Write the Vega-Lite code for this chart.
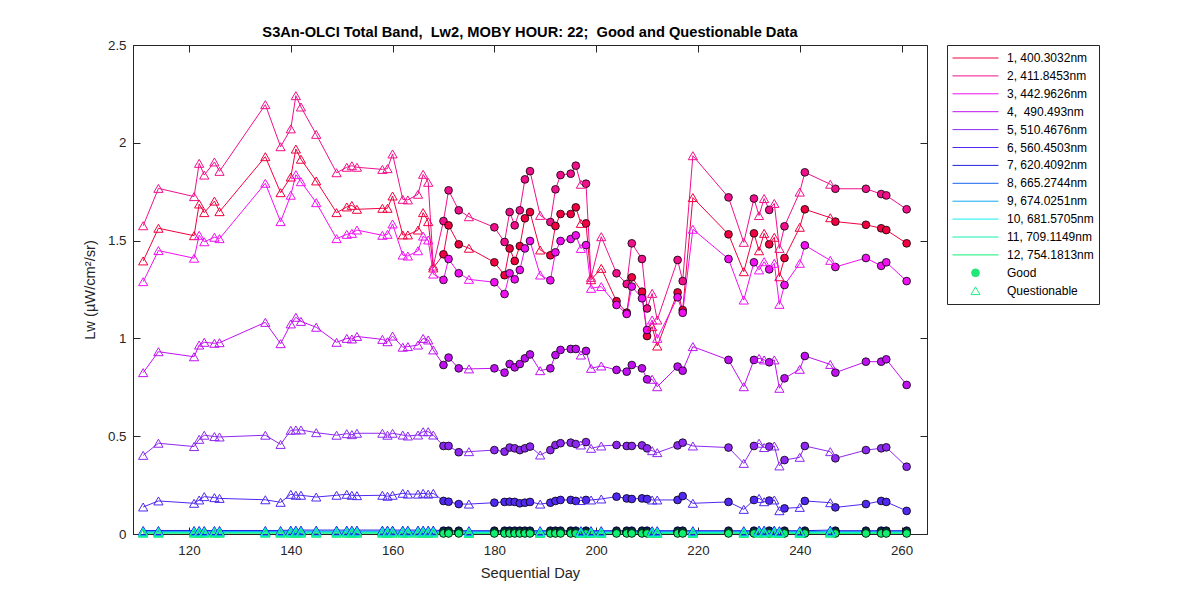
{
  "$schema": "https://vega.github.io/schema/vega-lite/v6.json",
  "width": 794,
  "height": 489,
  "autosize": "none",
  "padding": {"left": 133, "top": 45, "right": 273, "bottom": 66},
  "background": "white",
  "title": {
    "text": "S3An-OLCI Total Band,\u00a0 Lw2, MOBY HOUR: 22;\u00a0 Good and Questionable Data",
    "font": "Liberation Sans",
    "fontSize": 14.67,
    "fontWeight": "bold",
    "color": "#000000",
    "anchor": "middle",
    "baseline": "alphabetic",
    "offset": -14
  },
  "data": {
    "values": [
      {"d":111,"q":"Q","b01":1.396,"b02":1.576,"b03":1.29,"b04":0.825,"b05":0.402,"b06":0.138,"b07":0.018,"b08":0.013,"b09":0.011,"b10":0.009,"b11":0.006,"b12":0.004},
      {"d":114,"q":"Q","b01":1.563,"b02":1.767,"b03":1.449,"b04":0.932,"b05":0.464,"b06":0.169,"b07":0.018,"b08":0.013,"b09":0.011,"b10":0.009,"b11":0.006,"b12":0.004},
      {"d":121,"q":"Q","b01":1.525,"b02":1.725,"b03":1.41,"b04":0.906,"b05":0.447,"b06":0.157,"b07":0.018,"b08":0.013,"b09":0.011,"b10":0.009,"b11":0.006,"b12":0.004},
      {"d":122,"q":"Q","b01":1.687,"b02":1.895,"b03":1.527,"b04":0.966,"b05":0.484,"b06":0.174,"b07":0.018,"b08":0.013,"b09":0.011,"b10":0.009,"b11":0.006,"b12":0.004},
      {"d":123,"q":"Q","b01":1.643,"b02":1.835,"b03":1.494,"b04":0.98,"b05":0.505,"b06":0.191,"b07":0.018,"b08":0.013,"b09":0.011,"b10":0.009,"b11":0.006,"b12":0.004},
      {"d":125,"q":"Q","b01":1.702,"b02":1.902,"b03":1.517,"b04":0.975,"b05":0.498,"b06":0.186,"b07":0.018,"b08":0.013,"b09":0.011,"b10":0.009,"b11":0.006,"b12":0.004},
      {"d":126,"q":"Q","b01":1.648,"b02":1.854,"b03":1.51,"b04":0.978,"b05":0.496,"b06":0.182,"b07":0.018,"b08":0.013,"b09":0.011,"b10":0.009,"b11":0.006,"b12":0.004},
      {"d":135,"q":"Q","b01":1.929,"b02":2.195,"b03":1.793,"b04":1.082,"b05":0.505,"b06":0.175,"b07":0.018,"b08":0.013,"b09":0.011,"b10":0.009,"b11":0.006,"b12":0.004},
      {"d":138,"q":"Q","b01":1.745,"b02":1.98,"b03":1.597,"b04":0.973,"b05":0.458,"b06":0.162,"b07":0.018,"b08":0.013,"b09":0.011,"b10":0.009,"b11":0.006,"b12":0.004},
      {"d":140,"q":"Q","b01":1.825,"b02":2.071,"b03":1.732,"b04":1.074,"b05":0.53,"b06":0.203,"b07":0.02,"b08":0.014,"b09":0.012,"b10":0.01,"b11":0.006,"b12":0.004},
      {"d":141,"q":"Q","b01":1.968,"b02":2.241,"b03":1.837,"b04":1.108,"b05":0.532,"b06":0.198,"b07":0.02,"b08":0.014,"b09":0.012,"b10":0.01,"b11":0.006,"b12":0.004},
      {"d":142,"q":"Q","b01":1.916,"b02":2.183,"b03":1.801,"b04":1.087,"b05":0.532,"b06":0.198,"b07":0.02,"b08":0.014,"b09":0.012,"b10":0.01,"b11":0.006,"b12":0.004},
      {"d":145,"q":"Q","b01":1.805,"b02":2.043,"b03":1.694,"b04":1.057,"b05":0.518,"b06":0.189,"b07":0.02,"b08":0.014,"b09":0.012,"b10":0.01,"b11":0.006,"b12":0.004},
      {"d":149,"q":"Q","b01":1.643,"b02":1.847,"b03":1.51,"b04":0.98,"b05":0.505,"b06":0.198,"b07":0.02,"b08":0.014,"b09":0.012,"b10":0.01,"b11":0.006,"b12":0.004},
      {"d":151,"q":"Q","b01":1.672,"b02":1.875,"b03":1.532,"b04":1.0,"b05":0.513,"b06":0.203,"b07":0.02,"b08":0.014,"b09":0.012,"b10":0.01,"b11":0.006,"b12":0.004},
      {"d":152,"q":"Q","b01":1.68,"b02":1.883,"b03":1.537,"b04":0.997,"b05":0.508,"b06":0.198,"b07":0.02,"b08":0.014,"b09":0.012,"b10":0.01,"b11":0.006,"b12":0.004},
      {"d":153,"q":"Q","b01":1.66,"b02":1.875,"b03":1.554,"b04":1.01,"b05":0.515,"b06":0.196,"b07":0.02,"b08":0.014,"b09":0.012,"b10":0.01,"b11":0.006,"b12":0.004},
      {"d":158,"q":"Q","b01":1.665,"b02":1.864,"b03":1.527,"b04":0.995,"b05":0.515,"b06":0.198,"b07":0.02,"b08":0.014,"b09":0.012,"b10":0.01,"b11":0.006,"b12":0.004},
      {"d":159,"q":"Q","b01":1.665,"b02":1.868,"b03":1.532,"b04":0.983,"b05":0.505,"b06":0.193,"b07":0.02,"b08":0.014,"b09":0.012,"b10":0.01,"b11":0.006,"b12":0.004},
      {"d":160,"q":"Q","b01":1.728,"b02":1.943,"b03":1.585,"b04":1.012,"b05":0.515,"b06":0.198,"b07":0.02,"b08":0.014,"b09":0.012,"b10":0.01,"b11":0.006,"b12":0.004},
      {"d":162,"q":"Q","b01":1.529,"b02":1.711,"b03":1.426,"b04":0.955,"b05":0.506,"b06":0.208,"b07":0.02,"b08":0.014,"b09":0.012,"b10":0.01,"b11":0.006,"b12":0.004},
      {"d":163,"q":"Q","b01":1.529,"b02":1.708,"b03":1.421,"b04":0.958,"b05":0.501,"b06":0.204,"b07":0.02,"b08":0.014,"b09":0.012,"b10":0.01,"b11":0.006,"b12":0.004},
      {"d":165,"q":"Q","b01":1.554,"b02":1.737,"b03":1.448,"b04":0.966,"b05":0.506,"b06":0.204,"b07":0.02,"b08":0.014,"b09":0.012,"b10":0.01,"b11":0.006,"b12":0.004},
      {"d":166,"q":"Q","b01":1.643,"b02":1.839,"b03":1.523,"b04":1.0,"b05":0.523,"b06":0.208,"b07":0.02,"b08":0.014,"b09":0.012,"b10":0.01,"b11":0.006,"b12":0.004},
      {"d":167,"q":"Q","b01":1.597,"b02":1.798,"b03":1.503,"b04":0.992,"b05":0.523,"b06":0.204,"b07":0.02,"b08":0.014,"b09":0.012,"b10":0.01,"b11":0.006,"b12":0.004},
      {"d":168,"q":"Q","b01":1.36,"b02":1.37,"b03":1.329,"b04":0.941,"b05":0.506,"b06":0.208,"b07":0.02,"b08":0.014,"b09":0.012,"b10":0.01,"b11":0.006,"b12":0.004},
      {"d":170,"q":"G","b01":1.43,"b02":1.6,"b03":1.299,"b04":0.864,"b05":0.45,"b06":0.169,"b07":0.017,"b08":0.012,"b09":0.01,"b10":0.008,"b11":0.005,"b12":0.003},
      {"d":171,"q":"G","b01":1.578,"b02":1.757,"b03":1.406,"b04":0.902,"b05":0.45,"b06":0.165,"b07":0.017,"b08":0.012,"b09":0.01,"b10":0.008,"b11":0.005,"b12":0.003},
      {"d":173,"q":"G","b01":1.481,"b02":1.655,"b03":1.333,"b04":0.847,"b05":0.418,"b06":0.153,"b07":0.017,"b08":0.012,"b09":0.01,"b10":0.008,"b11":0.005,"b12":0.003},
      {"d":175,"q":"Q","b01":1.461,"b02":1.622,"b03":1.302,"b04":0.844,"b05":0.421,"b06":0.153,"b07":0.017,"b08":0.012,"b09":0.01,"b10":0.008,"b11":0.005,"b12":0.003},
      {"d":180,"q":"G","b01":1.389,"b02":1.568,"b03":1.287,"b04":0.847,"b05":0.429,"b06":0.16,"b07":0.017,"b08":0.012,"b09":0.01,"b10":0.008,"b11":0.005,"b12":0.003},
      {"d":182,"q":"G","b01":1.323,"b02":1.493,"b03":1.227,"b04":0.825,"b05":0.421,"b06":0.164,"b07":0.017,"b08":0.012,"b09":0.01,"b10":0.008,"b11":0.005,"b12":0.003},
      {"d":183,"q":"G","b01":1.46,"b02":1.646,"b03":1.333,"b04":0.869,"b05":0.442,"b06":0.165,"b07":0.017,"b08":0.012,"b09":0.01,"b10":0.008,"b11":0.005,"b12":0.003},
      {"d":184,"q":"G","b01":1.396,"b02":1.578,"b03":1.302,"b04":0.852,"b05":0.438,"b06":0.164,"b07":0.017,"b08":0.012,"b09":0.01,"b10":0.008,"b11":0.005,"b12":0.003},
      {"d":185,"q":"G","b01":1.472,"b02":1.655,"b03":1.35,"b04":0.869,"b05":0.429,"b06":0.157,"b07":0.017,"b08":0.012,"b09":0.01,"b10":0.008,"b11":0.005,"b12":0.003},
      {"d":186,"q":"G","b01":1.614,"b02":1.813,"b03":1.46,"b04":0.898,"b05":0.438,"b06":0.16,"b07":0.017,"b08":0.012,"b09":0.01,"b10":0.008,"b11":0.005,"b12":0.003},
      {"d":187,"q":"G","b01":1.646,"b02":1.855,"b03":1.498,"b04":0.918,"b05":0.447,"b06":0.164,"b07":0.017,"b08":0.012,"b09":0.01,"b10":0.008,"b11":0.005,"b12":0.003},
      {"d":189,"q":"Q","b01":1.452,"b02":1.629,"b03":1.324,"b04":0.835,"b05":0.404,"b06":0.153,"b07":0.017,"b08":0.012,"b09":0.01,"b10":0.008,"b11":0.005,"b12":0.003},
      {"d":191,"q":"G","b01":1.425,"b02":1.595,"b03":1.297,"b04":0.847,"b05":0.429,"b06":0.16,"b07":0.017,"b08":0.012,"b09":0.01,"b10":0.008,"b11":0.005,"b12":0.003},
      {"d":192,"q":"G","b01":1.575,"b02":1.762,"b03":1.44,"b04":0.915,"b05":0.455,"b06":0.169,"b07":0.017,"b08":0.012,"b09":0.01,"b10":0.008,"b11":0.005,"b12":0.003},
      {"d":193,"q":"G","b01":1.636,"b02":1.835,"b03":1.498,"b04":0.941,"b05":0.464,"b06":0.174,"b07":0.017,"b08":0.012,"b09":0.01,"b10":0.008,"b11":0.005,"b12":0.003},
      {"d":195,"q":"G","b01":1.636,"b02":1.842,"b03":1.508,"b04":0.946,"b05":0.467,"b06":0.174,"b07":0.017,"b08":0.012,"b09":0.01,"b10":0.008,"b11":0.005,"b12":0.003},
      {"d":196,"q":"G","b01":1.67,"b02":1.883,"b03":1.527,"b04":0.946,"b05":0.46,"b06":0.169,"b07":0.017,"b08":0.012,"b09":0.01,"b10":0.008,"b11":0.005,"b12":0.003},
      {"d":197,"q":"Q","b01":1.588,"b02":1.788,"b03":1.46,"b04":0.915,"b05":0.455,"b06":0.171,"b07":0.017,"b08":0.012,"b09":0.01,"b10":0.008,"b11":0.005,"b12":0.003},
      {"d":198,"q":"G","b01":1.588,"b02":1.791,"b03":1.477,"b04":0.936,"b05":0.47,"b06":0.174,"b07":0.017,"b08":0.012,"b09":0.01,"b10":0.008,"b11":0.005,"b12":0.003},
      {"d":199,"q":"Q","b01":1.3,"b02":1.312,"b03":1.256,"b04":0.847,"b05":0.438,"b06":0.174,"b07":0.017,"b08":0.012,"b09":0.01,"b10":0.008,"b11":0.005,"b12":0.003},
      {"d":201,"q":"Q","b01":1.358,"b02":1.52,"b03":1.265,"b04":0.859,"b05":0.45,"b06":0.179,"b07":0.017,"b08":0.012,"b09":0.01,"b10":0.008,"b11":0.005,"b12":0.003},
      {"d":204,"q":"G","b01":1.19,"b02":1.333,"b03":1.171,"b04":0.839,"b05":0.455,"b06":0.191,"b07":0.017,"b08":0.012,"b09":0.01,"b10":0.008,"b11":0.005,"b12":0.003},
      {"d":206,"q":"G","b01":1.132,"b02":1.278,"b03":1.125,"b04":0.83,"b05":0.45,"b06":0.182,"b07":0.017,"b08":0.012,"b09":0.01,"b10":0.008,"b11":0.005,"b12":0.003},
      {"d":207,"q":"G","b01":1.312,"b02":1.486,"b03":1.265,"b04":0.864,"b05":0.45,"b06":0.179,"b07":0.017,"b08":0.012,"b09":0.01,"b10":0.008,"b11":0.005,"b12":0.003},
      {"d":209,"q":"G","b01":1.239,"b02":1.406,"b03":1.205,"b04":0.847,"b05":0.453,"b06":0.182,"b07":0.017,"b08":0.012,"b09":0.01,"b10":0.008,"b11":0.005,"b12":0.003},
      {"d":210,"q":"G","b01":1.012,"b02":1.153,"b03":1.043,"b04":0.791,"b05":0.438,"b06":0.179,"b07":0.017,"b08":0.012,"b09":0.01,"b10":0.008,"b11":0.005,"b12":0.003},
      {"d":211,"q":"Q","b01":1.06,"b02":1.23,"b03":1.094,"b04":0.791,"b05":0.426,"b06":0.174,"b07":0.017,"b08":0.012,"b09":0.01,"b10":0.008,"b11":0.005,"b12":0.003},
      {"d":212,"q":"Q","b01":0.961,"b02":1.094,"b03":1.0,"b04":0.753,"b05":0.416,"b06":0.174,"b07":0.017,"b08":0.012,"b09":0.01,"b10":0.008,"b11":0.005,"b12":0.003},
      {"d":216,"q":"G","b01":1.235,"b02":1.401,"b03":1.21,"b04":0.856,"b05":0.453,"b06":0.174,"b07":0.017,"b08":0.012,"b09":0.01,"b10":0.008,"b11":0.005,"b12":0.003},
      {"d":217,"q":"G","b01":1.145,"b02":1.293,"b03":1.131,"b04":0.835,"b05":0.467,"b06":0.194,"b07":0.017,"b08":0.012,"b09":0.01,"b10":0.008,"b11":0.005,"b12":0.003},
      {"d":219,"q":"Q","b01":1.72,"b02":1.934,"b03":1.558,"b04":0.958,"b05":0.45,"b06":0.157,"b07":0.017,"b08":0.012,"b09":0.01,"b10":0.008,"b11":0.005,"b12":0.003},
      {"d":226,"q":"G","b01":1.532,"b02":1.721,"b03":1.406,"b04":0.89,"b05":0.442,"b06":0.164,"b07":0.017,"b08":0.012,"b09":0.01,"b10":0.008,"b11":0.005,"b12":0.003},
      {"d":229,"q":"Q","b01":1.341,"b02":1.491,"b03":1.196,"b04":0.753,"b05":0.361,"b06":0.126,"b07":0.017,"b08":0.012,"b09":0.01,"b10":0.008,"b11":0.005,"b12":0.003},
      {"d":231,"q":"G","b01":1.537,"b02":1.715,"b03":1.389,"b04":0.89,"b05":0.45,"b06":0.174,"b07":0.017,"b08":0.012,"b09":0.01,"b10":0.008,"b11":0.005,"b12":0.003},
      {"d":232,"q":"Q","b01":1.448,"b02":1.628,"b03":1.35,"b04":0.898,"b05":0.464,"b06":0.182,"b07":0.02,"b08":0.014,"b09":0.012,"b10":0.01,"b11":0.006,"b12":0.004},
      {"d":233,"q":"Q","b01":1.537,"b02":1.715,"b03":1.392,"b04":0.89,"b05":0.442,"b06":0.165,"b07":0.02,"b08":0.014,"b09":0.012,"b10":0.01,"b11":0.006,"b12":0.004},
      {"d":234,"q":"G","b01":1.481,"b02":1.657,"b03":1.353,"b04":0.878,"b05":0.447,"b06":0.171,"b07":0.017,"b08":0.012,"b09":0.01,"b10":0.008,"b11":0.005,"b12":0.003},
      {"d":235,"q":"Q","b01":1.517,"b02":1.69,"b03":1.384,"b04":0.89,"b05":0.45,"b06":0.174,"b07":0.02,"b08":0.014,"b09":0.012,"b10":0.01,"b11":0.006,"b12":0.004},
      {"d":236,"q":"Q","b01":1.315,"b02":1.46,"b03":1.174,"b04":0.745,"b05":0.348,"b06":0.119,"b07":0.017,"b08":0.012,"b09":0.01,"b10":0.008,"b11":0.005,"b12":0.003},
      {"d":237,"q":"G","b01":1.411,"b02":1.573,"b03":1.273,"b04":0.796,"b05":0.378,"b06":0.131,"b07":0.017,"b08":0.012,"b09":0.01,"b10":0.008,"b11":0.005,"b12":0.003},
      {"d":240,"q":"Q","b01":1.568,"b02":1.748,"b03":1.384,"b04":0.842,"b05":0.392,"b06":0.136,"b07":0.017,"b08":0.012,"b09":0.01,"b10":0.008,"b11":0.005,"b12":0.003},
      {"d":241,"q":"G","b01":1.66,"b02":1.849,"b03":1.476,"b04":0.91,"b05":0.45,"b06":0.169,"b07":0.017,"b08":0.012,"b09":0.01,"b10":0.008,"b11":0.005,"b12":0.003},
      {"d":246,"q":"Q","b01":1.617,"b02":1.788,"b03":1.399,"b04":0.867,"b05":0.421,"b06":0.16,"b07":0.02,"b08":0.014,"b09":0.012,"b10":0.01,"b11":0.006,"b12":0.004},
      {"d":247,"q":"G","b01":1.597,"b02":1.765,"b03":1.365,"b04":0.825,"b05":0.387,"b06":0.136,"b07":0.017,"b08":0.012,"b09":0.01,"b10":0.008,"b11":0.005,"b12":0.003},
      {"d":253,"q":"G","b01":1.581,"b02":1.765,"b03":1.411,"b04":0.881,"b05":0.429,"b06":0.153,"b07":0.017,"b08":0.012,"b09":0.01,"b10":0.008,"b11":0.005,"b12":0.003},
      {"d":256,"q":"G","b01":1.563,"b02":1.738,"b03":1.371,"b04":0.881,"b05":0.438,"b06":0.169,"b07":0.017,"b08":0.012,"b09":0.01,"b10":0.008,"b11":0.005,"b12":0.003},
      {"d":257,"q":"G","b01":1.554,"b02":1.731,"b03":1.389,"b04":0.893,"b05":0.443,"b06":0.164,"b07":0.017,"b08":0.012,"b09":0.01,"b10":0.008,"b11":0.005,"b12":0.003},
      {"d":261,"q":"G","b01":1.486,"b02":1.66,"b03":1.293,"b04":0.762,"b05":0.344,"b06":0.118,"b07":0.017,"b08":0.012,"b09":0.01,"b10":0.008,"b11":0.005,"b12":0.003}
    ]
  },
  "transform": [
    {"fold": ["b01","b02","b03","b04","b05","b06","b07","b08","b09","b10","b11","b12"], "as": ["band", "lw"]}
  ],
  "resolve": {"axis": {"x": "independent", "y": "independent"}},
  "layer": [
    {
      "mark": {"type": "line", "strokeWidth": 1, "clip": true},
      "encoding": {
        "x": {"field": "d", "type": "quantitative", "scale": {"domain": [109, 265], "nice": false, "zero": false},
              "axis": {"values": [120,140,160,180,200,220,240,260], "title": "Sequential Day", "orient": "bottom"}},
        "y": {"field": "lw", "type": "quantitative", "scale": {"domain": [0, 2.5], "nice": false},
              "axis": {"values": [0,0.5,1,1.5,2,2.5], "format": ".1~f", "title": "Lw (\u00b5W/cm\u00b2/sr)", "orient": "left"}},
        "color": {
          "field": "band", "type": "nominal",
          "scale": {
            "domain": ["b01","b02","b03","b04","b05","b06","b07","b08","b09","b10","b11","b12","Good","Questionable"],
            "range": ["#F00040","#F0108C","#F010F0","#C010F0","#8C28F0","#5028F0","#2020E0","#1464F0","#10A8F0","#10F0F0","#10F0B0","#10F070","#20E878","#20F080"]
          },
          "legend": {
            "title": null,
            "orient": "none",
            "legendX": 814,
            "legendY": 0,
            "direction": "vertical",
            "columns": 1,
            "symbolType": "stroke",
            "symbolSize": 2116,
            "symbolStrokeWidth": 1,
            "symbolOffset": 0,
            "clipHeight": 16,
            "rowPadding": 1.9,
            "padding": 5,
            "strokeColor": "#262626",
            "fillColor": "white",
            "labelFont": "Liberation Sans",
            "labelFontSize": 12,
            "labelColor": "#000000",
            "labelOffset": 8,
            "labelLimit": 200,
            "labelExpr": "{'b01':'\u00a01, 400.3032nm','b02':'\u00a02, 411.8453nm','b03':'\u00a03, 442.9626nm','b04':'\u00a04, \u00a0490.493nm','b05':'\u00a05, 510.4676nm','b06':'\u00a06, 560.4503nm','b07':'\u00a07, 620.4092nm','b08':'\u00a08, 665.2744nm','b09':'\u00a09, 674.0251nm','b10':'10, 681.5705nm','b11':'11, 709.1149nm','b12':'12, 754.1813nm','Good':'Good','Questionable':'Questionable'}[datum.value]",
            "encode": {
              "symbols": {
                "update": {
                  "shape": {"signal": "datum.value === 'Good' ? 'circle' : datum.value === 'Questionable' ? 'triangle-up' : 'stroke'"},
                  "size": {"signal": "datum.value === 'Good' ? 60 : datum.value === 'Questionable' ? 80 : 2116"},
                  "fill": {"signal": "datum.value === 'Good' ? '#20E878' : 'transparent'"},
                  "fillOpacity": {"signal": "datum.value === 'Good' ? 1 : 0"},
                  "stroke": {"signal": "datum.value === 'Good' ? '#000000' : scale('color', datum.value)"},
                  "strokeWidth": {"value": 1},
                  "opacity": {"value": 1}
                }
              }
            }
          }
        }
      }
    },
    {
      "transform": [{"filter": "datum.q === 'G'"}],
      "mark": {"type": "point", "shape": "circle", "filled": true, "stroke": "#000000", "strokeWidth": 0.8, "size": 60, "opacity": 1},
      "encoding": {
        "x": {"field": "d", "type": "quantitative", "axis": null},
        "y": {"field": "lw", "type": "quantitative", "axis": null},
        "color": {"field": "band", "type": "nominal", "legend": null}
      }
    },
    {
      "transform": [{"filter": "datum.q === 'Q'"}],
      "mark": {"type": "point", "shape": "triangle-up", "filled": false, "strokeWidth": 1, "size": 85, "opacity": 1},
      "encoding": {
        "x": {"field": "d", "type": "quantitative", "axis": null},
        "y": {"field": "lw", "type": "quantitative", "axis": null},
        "color": {"field": "band", "type": "nominal", "legend": null}
      }
    },
    {
      "mark": {"type": "point", "opacity": 0},
      "encoding": {
        "x": {"field": "d", "type": "quantitative",
              "axis": {"orient": "top", "values": [120,140,160,180,200,220,240,260], "labels": false, "title": null, "domain": false}},
        "y": {"field": "lw", "type": "quantitative",
              "axis": {"orient": "right", "values": [0,0.5,1,1.5,2,2.5], "labels": false, "title": null, "domain": false}}
      }
    }
  ],
  "config": {
    "view": {"stroke": "#262626", "strokeWidth": 1},
    "font": "Liberation Sans",
    "axis": {
      "grid": false,
      "domainColor": "#262626",
      "tickColor": "#262626",
      "labelColor": "#262626",
      "titleColor": "#262626",
      "labelFont": "Liberation Sans",
      "titleFont": "Liberation Sans",
      "labelFontSize": 13.33,
      "titleFontSize": 14.67,
      "titleFontWeight": "normal",
      "tickSize": -7,
      "tickWidth": 1,
      "domainWidth": 1
    },
    "axisX": {"labelPadding": 16, "titlePadding": 9},
    "axisY": {"labelPadding": 14, "titlePadding": 10}
  }
}
